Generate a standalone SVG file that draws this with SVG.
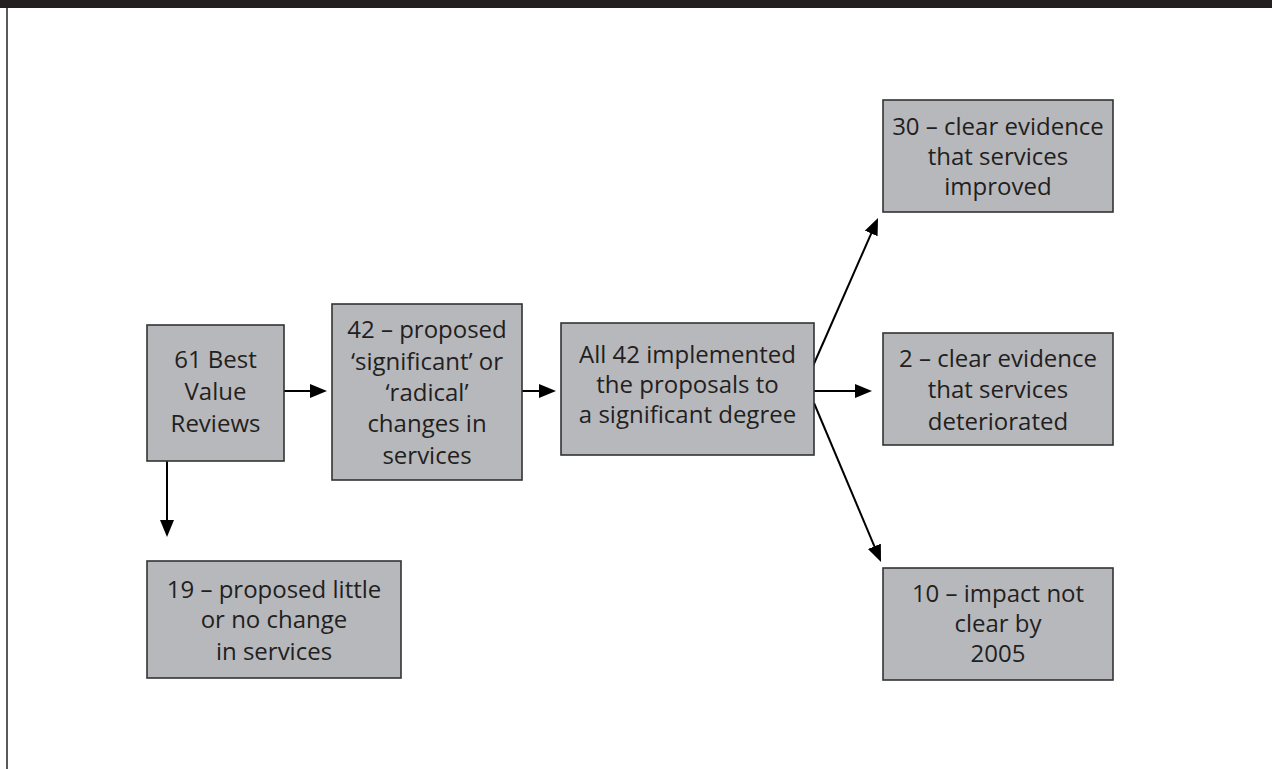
<svg xmlns="http://www.w3.org/2000/svg" width="1272" height="769" viewBox="0 0 1272 769">
<style>
.box{fill:#b7b8bc;stroke:#333333;stroke-width:1.6}
.t{font-family:"Open Sans","Liberation Sans",sans-serif;font-size:24px;fill:#231f20;text-anchor:middle}
.c{stroke:#000;stroke-width:2;fill:none;marker-end:url(#ah)}
</style>
<defs>
<marker id="ah" markerUnits="userSpaceOnUse" markerWidth="18" markerHeight="15" refX="9" refY="7" orient="auto">
<path d="M0,0 L17,7 L0,14 z" fill="#000"/>
</marker>
</defs>
<rect x="0" y="0" width="1272" height="769" fill="#ffffff"/>
<rect x="0" y="0" width="1272" height="8" fill="#231f20"/>
<rect x="6" y="8" width="2" height="761" fill="#58595b"/>
<g id="connectors">
<line class="c" x1="284" y1="391" x2="319" y2="391"/>
<line class="c" x1="522" y1="391" x2="548" y2="391"/>
<line class="c" x1="814" y1="391" x2="864" y2="391"/>
<line class="c" x1="813" y1="366" x2="874.8" y2="225.3"/>
<line class="c" x1="814" y1="403" x2="877.9" y2="554.6"/>
<line class="c" x1="167" y1="461" x2="167" y2="529"/>
</g>
<g id="n1">
<rect class="box" x="147" y="325" width="137" height="136"/>
<text class="t"><tspan x="215.5" y="368">61 Best</tspan><tspan x="215.5" y="400">Value</tspan><tspan x="215.5" y="432">Reviews</tspan></text>
</g>
<g id="n2">
<rect class="box" x="332" y="304" width="190" height="176"/>
<text class="t"><tspan x="427" y="338">42 – proposed</tspan><tspan x="427" y="370">‘significant’ or</tspan><tspan x="427" y="401">‘radical’</tspan><tspan x="427" y="432">changes in</tspan><tspan x="427" y="464">services</tspan></text>
</g>
<g id="n3">
<rect class="box" x="561" y="323" width="253" height="132"/>
<text class="t"><tspan x="687.5" y="363">All 42 implemented</tspan><tspan x="687.5" y="393">the proposals to</tspan><tspan x="687.5" y="423">a significant degree</tspan></text>
</g>
<g id="n4">
<rect class="box" x="883" y="100" width="230" height="112"/>
<text class="t"><tspan x="998" y="135">30 – clear evidence</tspan><tspan x="998" y="165">that services</tspan><tspan x="998" y="195">improved</tspan></text>
</g>
<g id="n5">
<rect class="box" x="883" y="333" width="230" height="112"/>
<text class="t"><tspan x="998" y="367">2 – clear evidence</tspan><tspan x="998" y="398">that services</tspan><tspan x="998" y="430">deteriorated</tspan></text>
</g>
<g id="n6">
<rect class="box" x="883" y="568" width="230" height="112"/>
<text class="t"><tspan x="998" y="602">10 – impact not</tspan><tspan x="998" y="632">clear by</tspan><tspan x="998" y="662">2005</tspan></text>
</g>
<g id="n7">
<rect class="box" x="147" y="561" width="254" height="117"/>
<text class="t"><tspan x="274" y="598">19 – proposed little</tspan><tspan x="274" y="628">or no change</tspan><tspan x="274" y="660">in services</tspan></text>
</g>
</svg>
